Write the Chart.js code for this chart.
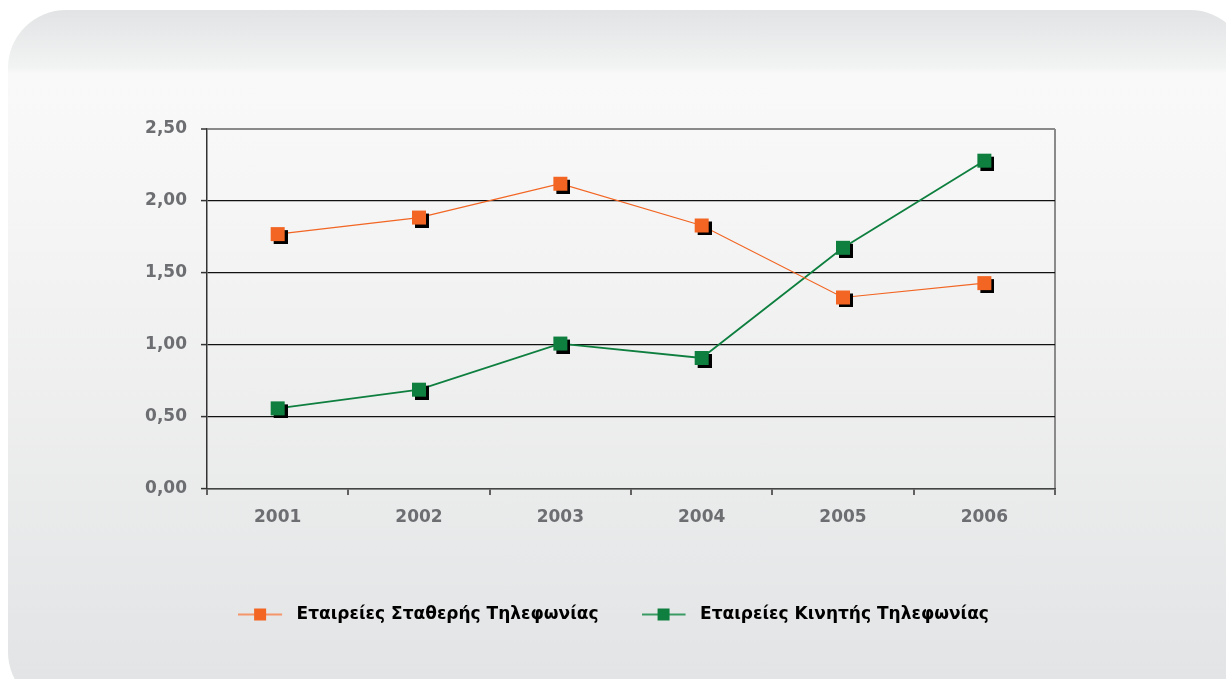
<!DOCTYPE html>
<html>
<head>
<meta charset="utf-8">
<script src="https://cdn.jsdelivr.net/npm/chart.js@4.4.0/dist/chart.umd.min.js"></script>
<style>
  html, body { margin: 0; padding: 0; background: #ffffff; overflow: hidden; }
  #panel {
    position: absolute; left: 8px; top: 10px; width: 1240px; height: 700px;
    border-radius: 58px;
    background: linear-gradient(to bottom, #e2e3e4 0px, #f2f3f3 58px, #f9f9f9 63px, #f8f8f8 120px, #e3e4e5 669px);
  }
  #wrap { position: absolute; left: 0; top: 0; width: 1226px; height: 679px; }
</style>
</head>
<body>
<div id="panel"></div>
<div id="wrap"><canvas id="chart" width="1226" height="679"></canvas></div>
<script>
// χρονιές
const years = ['2001', '2002', '2003', '2004', '2005', '2006'];
// εταιρείες σταθερής
const stathera = [1.77, 1.885, 2.12, 1.83, 1.33, 1.43];
// εταιρείες κινητής
const kinita = [0.56, 0.69, 1.01, 0.91, 1.675, 2.28];
const seriesNames = ['Εταιρείες Σταθερής Τηλεφωνίας', 'Εταιρείες Κινητής Τηλεφωνίας'];
const yTicks = [0, 0.5, 1, 1.5, 2, 2.5];

const ORANGE = '#f26522';
const GREEN = '#0e7f3f';

// square marker with black drop shadow
function markerImg(color) {
    const c = document.createElement('canvas');
    c.width = 20; c.height = 20;
    const g = c.getContext('2d');
    g.fillStyle = '#000';
    g.fillRect(6, 6, 14, 14);
    g.fillStyle = color;
    g.fillRect(3, 3, 14, 14);
    return c;
}

// legend symbol: line through a square
function legendImg(color, lineColor) {
    const c = document.createElement('canvas');
    c.width = 50; c.height = 16;
    const g = c.getContext('2d');
    g.fillStyle = lineColor;
    g.fillRect(0, 7, 44, 2);
    g.fillStyle = color;
    g.fillRect(16, 2, 12, 12);
    return c;
}

// y labels sit left of the narrow y box, so widen its clip area after layout
const widenY = {
    id: 'widenY',
    afterLayout: function (chart) { chart.scales.y.left = 60; }
};

const ctx = document.getElementById('chart');
new Chart(ctx, {
    type: 'line',
    data: {
        labels: years,
        datasets: [{
            label: seriesNames[0],
            data: stathera,
            borderColor: ORANGE,
            borderWidth: 1.2,
            pointStyle: markerImg(ORANGE),
            pointRadius: 8,
            pointHoverRadius: 8,
            tension: 0
        }, {
            label: seriesNames[1],
            data: kinita,
            borderColor: GREEN,
            borderWidth: 1.8,
            pointStyle: markerImg(GREEN),
            pointRadius: 8,
            pointHoverRadius: 8,
            tension: 0
        }]
    },
    plugins: [widenY],
    options: {
        responsive: false,
        animation: false,
        layout: { padding: { left: 172, right: 171, top: 129, bottom: 46 } },
        plugins: {
            tooltip: { enabled: false },
            legend: {
                position: 'bottom',
                labels: {
                    usePointStyle: true,
                    pointStyleWidth: 50,
                    padding: 43,
                    color: '#231f20',
                    font: { family: 'DejaVu Sans', size: 17, weight: 'bold' },
                    generateLabels: function (chart) {
                        return [
                            { text: seriesNames[0], pointStyle: legendImg(ORANGE, '#f5956a'), datasetIndex: 0, lineWidth: 0, strokeStyle: 'transparent', fillStyle: ORANGE, hidden: false },
                            { text: seriesNames[1], pointStyle: legendImg(GREEN, '#3a9a64'), datasetIndex: 1, lineWidth: 0, strokeStyle: 'transparent', fillStyle: GREEN, hidden: false }
                        ];
                    }
                }
            }
        },
        scales: {
            x: {
                offset: true,
                afterFit: function (s) { s.height = 74; },
                border: { color: '#444', width: 1.5 },
                grid: {
                    offset: true,
                    drawOnChartArea: true,
                    color: function (c) { return c.type === 'tick' ? 'rgba(0,0,0,0)' : '#8a8a8a'; },
                    lineWidth: 2,
                    tickColor: '#333',
                    tickWidth: 1.5,
                    tickLength: 6
                },
                ticks: {
                    padding: 12,
                    color: '#6d6e71',
                    font: { family: 'DejaVu Sans', size: 17, weight: 'bold' }
                }
            },
            y: {
                min: 0,
                max: 2.5,
                afterFit: function (s) { s.width = 207 - 172; },
                afterBuildTicks: function (s) { s.ticks = yTicks.map(function (v) { return { value: v }; }); },
                border: { color: '#333', width: 1.5 },
                grid: {
                    color: function (c) {
                        if (c.tick && c.tick.value === 2.5) return '#8a8a8a';
                        if (c.tick && c.tick.value === 0) return '#444';
                        return '#111';
                    },
                    lineWidth: function (c) { return c.tick && c.tick.value === 2.5 ? 2 : 1.2; },
                    tickColor: '#333',
                    tickWidth: 1.5,
                    tickLength: 6
                },
                ticks: {
                    padding: 14,
                    color: '#6d6e71',
                    font: { family: 'DejaVu Sans', size: 17, weight: 'bold' },
                    callback: function (v) { return v.toFixed(2).replace('.', ','); }
                }
            }
        }
    }
});
</script>
</body>
</html>
